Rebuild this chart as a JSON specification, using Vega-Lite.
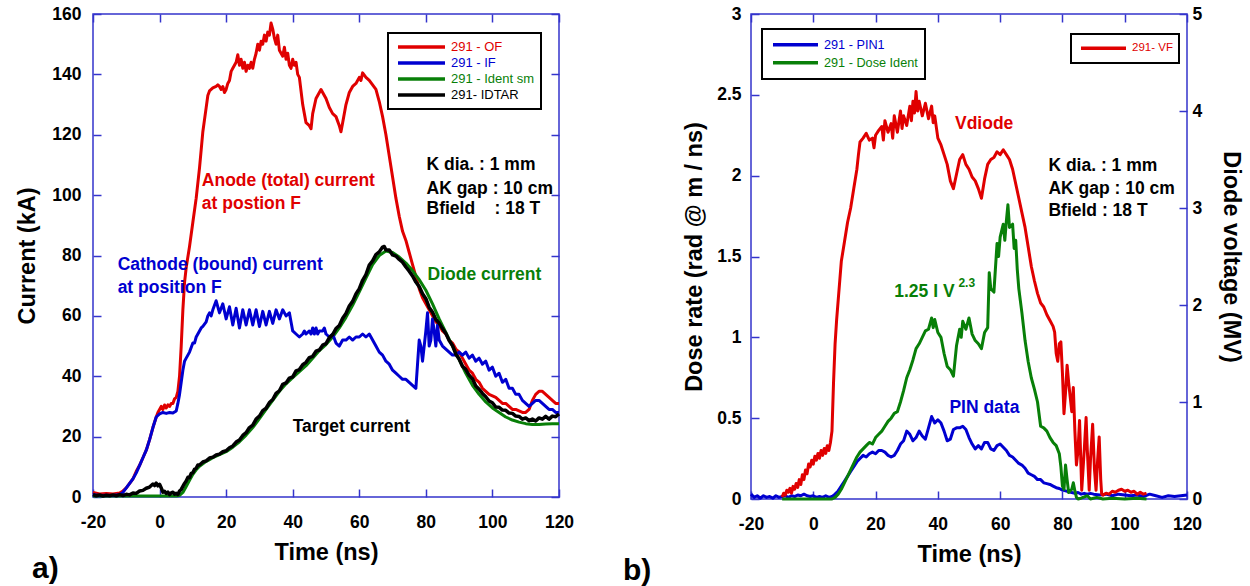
{
"$schema": "https://vega.github.io/schema/vega-lite/v6.json",
"padding": {"left": 15, "top": 4, "right": 0, "bottom": 5},
"background": "white",
"spacing": 192,
"bounds": "flush",
"config": {
  "font": "Liberation Sans",
  "view": {"stroke": "#3434cc", "strokeWidth": 1.5},
  "axis": {"domain": false, "grid": false, "tickColor": "#3434cc", "tickWidth": 1.5, "tickSize": -8,
    "labelFont": "Liberation Sans", "labelFontWeight": "bold", "labelFontSize": 17.5, "labelColor": "#000",
    "titleFont": "Liberation Sans", "titleFontWeight": "bold", "titleFontSize": 23.5, "titleColor": "#000",
    "labelFlush": false, "labelOverlap": false},
  "text": {"font": "Liberation Sans", "fontWeight": "bold", "fontSize": 17.5, "align": "left", "baseline": "alphabetic"}
},
"datasets": {
 "of": [{"t":-20,"v":1.5},{"t":-18,"v":1},{"t":-16,"v":1.2},{"t":-14,"v":1},{"t":-12,"v":1.3},{"t":-11,"v":2},{"t":-10,"v":3},{"t":-9,"v":4.5},{"t":-8,"v":6},{"t":-7,"v":8.5},{"t":-6,"v":10.5},{"t":-5,"v":13},{"t":-4,"v":15.5},{"t":-3,"v":19},{"t":-2,"v":23},{"t":-1,"v":26.5},{"t":-0.5,"v":28},{"t":0,"v":29},{"t":0.5,"v":30},{"t":1,"v":29},{"t":1.5,"v":30.5},{"t":2,"v":29.5},{"t":2.5,"v":30.5},{"t":3,"v":30},{"t":3.5,"v":31},{"t":4,"v":31},{"t":4.5,"v":32.5},{"t":5,"v":33},{"t":5.5,"v":35},{"t":6,"v":40},{"t":6.5,"v":50},{"t":7,"v":62},{"t":7.5,"v":71},{"t":8,"v":76},{"t":9,"v":83},{"t":10,"v":91},{"t":11,"v":99},{"t":12,"v":109},{"t":12.5,"v":115},{"t":13,"v":121},{"t":13.5,"v":125},{"t":14,"v":129},{"t":14.5,"v":133},{"t":15,"v":134.5},{"t":16,"v":135.5},{"t":17,"v":136},{"t":17.5,"v":136.5},{"t":18,"v":136},{"t":18.5,"v":135},{"t":19,"v":136},{"t":19.5,"v":134},{"t":20,"v":135},{"t":20.5,"v":137},{"t":21,"v":138},{"t":21.5,"v":141},{"t":22,"v":142},{"t":22.5,"v":143},{"t":23,"v":144},{"t":23.5,"v":146.5},{"t":24,"v":143},{"t":24.5,"v":145},{"t":25,"v":142},{"t":25.5,"v":144},{"t":26,"v":141},{"t":26.5,"v":143},{"t":27,"v":142},{"t":27.5,"v":144},{"t":28,"v":142},{"t":28.5,"v":145},{"t":29,"v":147},{"t":29.5,"v":150},{"t":30,"v":148},{"t":30.5,"v":151},{"t":31,"v":150},{"t":31.5,"v":153},{"t":32,"v":151},{"t":32.5,"v":154},{"t":33,"v":153},{"t":33.5,"v":157},{"t":34,"v":155},{"t":34.5,"v":152},{"t":35,"v":150},{"t":35.5,"v":153},{"t":36,"v":148},{"t":37,"v":146},{"t":37.5,"v":149},{"t":38,"v":145},{"t":38.5,"v":147},{"t":39,"v":143},{"t":39.5,"v":142},{"t":40,"v":145},{"t":40.5,"v":143},{"t":41,"v":144},{"t":41.5,"v":140},{"t":42,"v":139},{"t":43,"v":130},{"t":43.5,"v":127},{"t":44,"v":124},{"t":45,"v":123},{"t":45.5,"v":122},{"t":46,"v":127},{"t":47,"v":132},{"t":48,"v":134},{"t":48.5,"v":135},{"t":49,"v":134},{"t":50,"v":132},{"t":51,"v":129},{"t":52,"v":127},{"t":53,"v":126},{"t":54,"v":123},{"t":54.5,"v":121},{"t":55,"v":124},{"t":56,"v":130},{"t":57,"v":134},{"t":58,"v":136},{"t":59,"v":137},{"t":60,"v":139},{"t":60.5,"v":138},{"t":61,"v":140.5},{"t":62,"v":139},{"t":63,"v":138},{"t":64,"v":136.5},{"t":65,"v":135},{"t":66,"v":131},{"t":67,"v":126},{"t":68,"v":120},{"t":69,"v":113},{"t":70,"v":106},{"t":71,"v":99},{"t":72,"v":93},{"t":73,"v":88},{"t":74,"v":85},{"t":75,"v":81},{"t":76,"v":77},{"t":77,"v":73},{"t":78,"v":69},{"t":79,"v":66},{"t":80,"v":64},{"t":81,"v":62},{"t":82,"v":60},{"t":83,"v":58},{"t":84,"v":57},{"t":85,"v":55},{"t":86,"v":54},{"t":87,"v":52},{"t":88,"v":51},{"t":89,"v":49},{"t":90,"v":48},{"t":91,"v":46},{"t":92,"v":44},{"t":93,"v":42},{"t":94,"v":41},{"t":95,"v":39},{"t":96,"v":38},{"t":97,"v":36},{"t":98,"v":35},{"t":99,"v":34},{"t":100,"v":33.5},{"t":101,"v":33},{"t":102,"v":32},{"t":103,"v":31},{"t":104,"v":31},{"t":105,"v":30},{"t":106,"v":29},{"t":107,"v":29},{"t":108,"v":28.5},{"t":109,"v":28},{"t":110,"v":28},{"t":111,"v":29},{"t":112,"v":32},{"t":113,"v":34},{"t":114,"v":35},{"t":115,"v":35},{"t":116,"v":34},{"t":117,"v":33},{"t":118,"v":32},{"t":119,"v":31},{"t":120,"v":31}],
 "iff": [{"t":-20,"v":0.8},{"t":-18,"v":0.5},{"t":-16,"v":0.6},{"t":-14,"v":0.5},{"t":-12,"v":0.8},{"t":-11,"v":1.5},{"t":-10,"v":3},{"t":-9,"v":4.5},{"t":-8,"v":6},{"t":-7,"v":8},{"t":-6,"v":10.5},{"t":-5,"v":13},{"t":-4,"v":15.5},{"t":-3,"v":19},{"t":-2,"v":23},{"t":-1,"v":26.5},{"t":0,"v":27.5},{"t":1,"v":28},{"t":2,"v":27.7},{"t":3,"v":28},{"t":4,"v":27.8},{"t":5,"v":28.5},{"t":5.5,"v":31},{"t":6,"v":34},{"t":6.5,"v":38},{"t":7,"v":42},{"t":7.5,"v":45},{"t":8,"v":46},{"t":9,"v":48},{"t":10,"v":51},{"t":10.5,"v":51},{"t":11,"v":53},{"t":12,"v":55},{"t":12.5,"v":56},{"t":13,"v":56.5},{"t":14,"v":58},{"t":14.5,"v":60},{"t":15,"v":61},{"t":15.5,"v":60},{"t":16,"v":62},{"t":17,"v":65},{"t":18,"v":61},{"t":19,"v":64},{"t":20,"v":59},{"t":21,"v":63},{"t":22,"v":57},{"t":23,"v":62.5},{"t":24,"v":56},{"t":25,"v":62},{"t":26,"v":57},{"t":27,"v":62},{"t":28,"v":57},{"t":29,"v":62},{"t":30,"v":56.5},{"t":31,"v":61.5},{"t":32,"v":57},{"t":33,"v":61.5},{"t":34,"v":57.5},{"t":35,"v":62},{"t":36,"v":59},{"t":37,"v":62},{"t":38,"v":60},{"t":39,"v":61},{"t":39.5,"v":58},{"t":40,"v":55},{"t":41,"v":54},{"t":42,"v":53},{"t":43,"v":54},{"t":43.5,"v":55},{"t":44,"v":54},{"t":45,"v":55},{"t":45.5,"v":54},{"t":46,"v":56},{"t":46.5,"v":54},{"t":47,"v":56},{"t":47.5,"v":54},{"t":48,"v":55},{"t":49,"v":55},{"t":49.5,"v":56},{"t":50,"v":54},{"t":51,"v":53},{"t":52,"v":54},{"t":53,"v":51},{"t":54,"v":50},{"t":55,"v":52},{"t":56,"v":52},{"t":57,"v":53},{"t":58,"v":52},{"t":59,"v":53},{"t":60,"v":53},{"t":61,"v":54},{"t":62,"v":53},{"t":63,"v":54},{"t":64,"v":52},{"t":65,"v":50},{"t":66,"v":48},{"t":67,"v":47},{"t":68,"v":45},{"t":69,"v":44},{"t":70,"v":42},{"t":71,"v":41},{"t":72,"v":40},{"t":73,"v":39},{"t":74,"v":39},{"t":75,"v":38},{"t":76,"v":37},{"t":77,"v":36},{"t":77.5,"v":44},{"t":78,"v":52},{"t":78.5,"v":50},{"t":79,"v":45},{"t":80,"v":55},{"t":80.5,"v":61},{"t":81,"v":50},{"t":81.5,"v":52},{"t":82,"v":59},{"t":82.5,"v":55},{"t":83,"v":50},{"t":83.5,"v":57},{"t":84,"v":52},{"t":85,"v":50},{"t":86,"v":49},{"t":87,"v":48},{"t":88,"v":47},{"t":89,"v":47},{"t":90,"v":48},{"t":91,"v":47},{"t":92,"v":48},{"t":93,"v":46},{"t":94,"v":47},{"t":95,"v":45},{"t":96,"v":46},{"t":97,"v":44},{"t":98,"v":45},{"t":99,"v":42},{"t":100,"v":43},{"t":101,"v":40},{"t":102,"v":41},{"t":103,"v":38},{"t":104,"v":39},{"t":105,"v":36},{"t":106,"v":36},{"t":107,"v":34},{"t":108,"v":34},{"t":109,"v":32},{"t":110,"v":31},{"t":111,"v":30},{"t":112,"v":31},{"t":113,"v":32},{"t":114,"v":32},{"t":115,"v":31},{"t":116,"v":30},{"t":117,"v":29},{"t":118,"v":29},{"t":119,"v":28},{"t":120,"v":28}],
 "idsm": [{"t":-20,"v":0.3},{"t":-10,"v":0.3},{"t":0,"v":0.3},{"t":5,"v":0.3},{"t":6,"v":0.5},{"t":7,"v":1.5},{"t":8,"v":3.5},{"t":9,"v":5.5},{"t":10,"v":7.5},{"t":11,"v":9},{"t":12,"v":10.2},{"t":13,"v":11},{"t":14,"v":11.8},{"t":15,"v":12.4},{"t":16,"v":13},{"t":17,"v":13.5},{"t":18,"v":14},{"t":19,"v":14.5},{"t":20,"v":15},{"t":22,"v":16.5},{"t":24,"v":18.3},{"t":26,"v":20.5},{"t":28,"v":23},{"t":30,"v":26},{"t":32,"v":29},{"t":34,"v":32},{"t":36,"v":35},{"t":38,"v":37.5},{"t":40,"v":39.5},{"t":42,"v":41.5},{"t":44,"v":43.5},{"t":46,"v":46},{"t":48,"v":48.5},{"t":50,"v":50.5},{"t":52,"v":53},{"t":54,"v":56},{"t":56,"v":59.5},{"t":58,"v":63.5},{"t":60,"v":68},{"t":62,"v":72.5},{"t":64,"v":77},{"t":66,"v":80},{"t":68,"v":81.5},{"t":70,"v":81},{"t":72,"v":79.5},{"t":74,"v":77.5},{"t":76,"v":75},{"t":78,"v":72},{"t":80,"v":68.5},{"t":82,"v":64},{"t":84,"v":59},{"t":86,"v":54.5},{"t":88,"v":50},{"t":90,"v":45.5},{"t":92,"v":41},{"t":94,"v":37},{"t":96,"v":34},{"t":98,"v":31.5},{"t":100,"v":29.5},{"t":102,"v":28},{"t":104,"v":26.5},{"t":106,"v":25.5},{"t":108,"v":24.8},{"t":110,"v":24.3},{"t":112,"v":24},{"t":114,"v":24},{"t":116,"v":24.2},{"t":118,"v":24.3},{"t":120,"v":24.3}],
 "idtar": [{"t":-20,"v":0.8},{"t":-19,"v":0.4},{"t":-18,"v":0.7},{"t":-17,"v":0.3},{"t":-16,"v":0.6},{"t":-15,"v":0.4},{"t":-14,"v":0.7},{"t":-13,"v":0.4},{"t":-12,"v":0.8},{"t":-11,"v":0.5},{"t":-10,"v":0.9},{"t":-9,"v":0.7},{"t":-8,"v":1.3},{"t":-7,"v":1.2},{"t":-6,"v":2},{"t":-5,"v":2.2},{"t":-4,"v":2.9},{"t":-3,"v":3.3},{"t":-2,"v":4.3},{"t":-1.5,"v":3.8},{"t":-1,"v":4.6},{"t":-0.5,"v":3.7},{"t":0,"v":4.2},{"t":0.5,"v":3},{"t":1,"v":1.6},{"t":1.5,"v":1.9},{"t":2,"v":1.2},{"t":2.5,"v":1.6},{"t":3,"v":0.8},{"t":3.5,"v":1.4},{"t":4,"v":1.6},{"t":4.5,"v":0.9},{"t":5,"v":1.2},{"t":5.5,"v":0.8},{"t":6,"v":2},{"t":6.5,"v":2.5},{"t":7,"v":3.5},{"t":7.5,"v":4.5},{"t":8,"v":5.3},{"t":8.5,"v":6.5},{"t":9,"v":6.4},{"t":9.5,"v":7.8},{"t":10,"v":8},{"t":10.5,"v":9.2},{"t":11,"v":9.5},{"t":11.5,"v":10.6},{"t":12,"v":10.6},{"t":13,"v":11.6},{"t":14,"v":12},{"t":15,"v":12.9},{"t":16,"v":13.2},{"t":17,"v":13.9},{"t":18,"v":14.2},{"t":19,"v":15},{"t":20,"v":15.3},{"t":21,"v":16.3},{"t":22,"v":16.9},{"t":23,"v":18.2},{"t":24,"v":18.9},{"t":25,"v":20.4},{"t":26,"v":21.3},{"t":27,"v":23},{"t":28,"v":23.8},{"t":29,"v":25.8},{"t":30,"v":26.8},{"t":31,"v":28.6},{"t":32,"v":29.4},{"t":33,"v":31.3},{"t":34,"v":32.3},{"t":35,"v":34.3},{"t":36,"v":35.2},{"t":37,"v":37.3},{"t":38,"v":37.8},{"t":39,"v":39.4},{"t":40,"v":39.8},{"t":41,"v":41.8},{"t":42,"v":42.2},{"t":43,"v":43.8},{"t":44,"v":44.6},{"t":45,"v":46.2},{"t":46,"v":46.6},{"t":47,"v":48.3},{"t":48,"v":48.7},{"t":49,"v":50.3},{"t":50,"v":50.8},{"t":51,"v":52.8},{"t":52,"v":53.8},{"t":53,"v":55.8},{"t":54,"v":56.8},{"t":55,"v":59.2},{"t":56,"v":60.8},{"t":57,"v":63.3},{"t":58,"v":64.8},{"t":59,"v":67.3},{"t":60,"v":69},{"t":61,"v":71.8},{"t":62,"v":73.7},{"t":63,"v":76.8},{"t":64,"v":78.2},{"t":65,"v":80.3},{"t":66,"v":81.2},{"t":67,"v":82.8},{"t":67.5,"v":83},{"t":68,"v":81.8},{"t":69,"v":81.8},{"t":70,"v":80.2},{"t":71,"v":79.8},{"t":72,"v":78.7},{"t":73,"v":77.8},{"t":74,"v":76.2},{"t":75,"v":74.8},{"t":76,"v":73.2},{"t":77,"v":71.2},{"t":78,"v":69.7},{"t":79,"v":67.3},{"t":80,"v":65.7},{"t":81,"v":62.8},{"t":82,"v":61.2},{"t":83,"v":58.8},{"t":84,"v":57.6},{"t":85,"v":55.8},{"t":86,"v":54.2},{"t":87,"v":51.8},{"t":88,"v":50.2},{"t":89,"v":47.3},{"t":90,"v":45.7},{"t":91,"v":43.3},{"t":92,"v":42.2},{"t":93,"v":40.3},{"t":94,"v":39.2},{"t":95,"v":36.8},{"t":96,"v":35.7},{"t":97,"v":34.3},{"t":98,"v":33.2},{"t":99,"v":31.8},{"t":100,"v":31.2},{"t":101,"v":29.8},{"t":102,"v":29.7},{"t":103,"v":28.8},{"t":104,"v":28.7},{"t":105,"v":27.8},{"t":106,"v":27.7},{"t":107,"v":26.8},{"t":108,"v":26.7},{"t":109,"v":25.8},{"t":110,"v":26.2},{"t":111,"v":25.3},{"t":112,"v":25.8},{"t":113,"v":25.2},{"t":114,"v":26.2},{"t":115,"v":25.8},{"t":116,"v":26.7},{"t":117,"v":25.8},{"t":118,"v":26.8},{"t":119,"v":26.6},{"t":120,"v":27.5}],
 "pin": [{"t":-20,"v":0.03},{"t":-19,"v":0.01},{"t":-18,"v":0.02},{"t":-17,"v":0.005},{"t":-16,"v":0.02},{"t":-15,"v":0.01},{"t":-14,"v":0.015},{"t":-13,"v":0.005},{"t":-12,"v":0.02},{"t":-11,"v":0.01},{"t":-10,"v":0.015},{"t":-9,"v":0.02},{"t":-8,"v":0.01},{"t":-7,"v":0.02},{"t":-6,"v":0.015},{"t":-5,"v":0.025},{"t":-4,"v":0.02},{"t":-3,"v":0.03},{"t":-2,"v":0.02},{"t":-1,"v":0.015},{"t":0,"v":0.02},{"t":1,"v":0.01},{"t":2,"v":0.015},{"t":3,"v":0.01},{"t":4,"v":0.02},{"t":5,"v":0.01},{"t":6,"v":0.015},{"t":7,"v":0.03},{"t":8,"v":0.05},{"t":9,"v":0.08},{"t":10,"v":0.11},{"t":11,"v":0.14},{"t":12,"v":0.17},{"t":13,"v":0.2},{"t":14,"v":0.23},{"t":15,"v":0.25},{"t":16,"v":0.27},{"t":17,"v":0.26},{"t":18,"v":0.28},{"t":19,"v":0.29},{"t":20,"v":0.28},{"t":21,"v":0.3},{"t":22,"v":0.3},{"t":23,"v":0.29},{"t":24,"v":0.27},{"t":25,"v":0.26},{"t":26,"v":0.27},{"t":27,"v":0.3},{"t":28,"v":0.34},{"t":29,"v":0.36},{"t":30,"v":0.42},{"t":31,"v":0.4},{"t":32,"v":0.36},{"t":33,"v":0.38},{"t":34,"v":0.42},{"t":35,"v":0.39},{"t":36,"v":0.37},{"t":37,"v":0.44},{"t":38,"v":0.51},{"t":39,"v":0.47},{"t":40,"v":0.49},{"t":41,"v":0.47},{"t":42,"v":0.42},{"t":43,"v":0.36},{"t":44,"v":0.37},{"t":45,"v":0.43},{"t":46,"v":0.44},{"t":47,"v":0.44},{"t":48,"v":0.45},{"t":49,"v":0.43},{"t":50,"v":0.38},{"t":51,"v":0.34},{"t":52,"v":0.31},{"t":53,"v":0.33},{"t":54,"v":0.31},{"t":55,"v":0.35},{"t":56,"v":0.35},{"t":57,"v":0.31},{"t":58,"v":0.3},{"t":59,"v":0.33},{"t":60,"v":0.34},{"t":61,"v":0.32},{"t":62,"v":0.3},{"t":63,"v":0.27},{"t":64,"v":0.26},{"t":65,"v":0.24},{"t":66,"v":0.22},{"t":67,"v":0.21},{"t":68,"v":0.19},{"t":69,"v":0.16},{"t":70,"v":0.15},{"t":71,"v":0.14},{"t":72,"v":0.12},{"t":73,"v":0.12},{"t":74,"v":0.1},{"t":75,"v":0.095},{"t":76,"v":0.09},{"t":77,"v":0.08},{"t":78,"v":0.07},{"t":79,"v":0.065},{"t":80,"v":0.055},{"t":81,"v":0.05},{"t":82,"v":0.045},{"t":83,"v":0.04},{"t":84,"v":0.035},{"t":85,"v":0.04},{"t":86,"v":0.03},{"t":87,"v":0.035},{"t":88,"v":0.03},{"t":89,"v":0.035},{"t":90,"v":0.03},{"t":92,"v":0.025},{"t":94,"v":0.03},{"t":96,"v":0.02},{"t":98,"v":0.03},{"t":100,"v":0.025},{"t":102,"v":0.02},{"t":104,"v":0.025},{"t":106,"v":0.015},{"t":108,"v":0.03},{"t":110,"v":0.02},{"t":112,"v":0.01},{"t":114,"v":0.02},{"t":116,"v":0.015},{"t":118,"v":0.02},{"t":120,"v":0.025}],
 "dose": [{"t":-10,"v":0},{"t":6,"v":0},{"t":7,"v":0.01},{"t":8,"v":0.03},{"t":9,"v":0.06},{"t":10,"v":0.1},{"t":11,"v":0.14},{"t":12,"v":0.18},{"t":13,"v":0.22},{"t":14,"v":0.26},{"t":15,"v":0.29},{"t":16,"v":0.31},{"t":17,"v":0.33},{"t":18,"v":0.35},{"t":19,"v":0.34},{"t":20,"v":0.38},{"t":21,"v":0.4},{"t":22,"v":0.42},{"t":23,"v":0.45},{"t":24,"v":0.48},{"t":25,"v":0.5},{"t":26,"v":0.53},{"t":27,"v":0.54},{"t":28,"v":0.6},{"t":29,"v":0.67},{"t":30,"v":0.75},{"t":31,"v":0.8},{"t":32,"v":0.86},{"t":33,"v":0.93},{"t":34,"v":0.96},{"t":35,"v":1.0},{"t":36,"v":1.04},{"t":37,"v":1.05},{"t":38,"v":1.12},{"t":38.5,"v":1.06},{"t":39,"v":1.11},{"t":40,"v":1.03},{"t":41,"v":1.0},{"t":42,"v":0.9},{"t":43,"v":0.82},{"t":44,"v":0.8},{"t":45,"v":0.76},{"t":46,"v":0.95},{"t":47,"v":1.05},{"t":47.5,"v":1.0},{"t":48,"v":1.1},{"t":49,"v":1.05},{"t":50,"v":1.12},{"t":51,"v":1.02},{"t":52,"v":0.98},{"t":53,"v":0.96},{"t":54,"v":0.93},{"t":55,"v":1.03},{"t":56,"v":1.06},{"t":56.5,"v":1.4},{"t":57,"v":1.3},{"t":58,"v":1.28},{"t":59,"v":1.58},{"t":59.5,"v":1.5},{"t":60,"v":1.62},{"t":61,"v":1.7},{"t":61.5,"v":1.6},{"t":62,"v":1.72},{"t":62.5,"v":1.82},{"t":63,"v":1.68},{"t":64,"v":1.7},{"t":64.5,"v":1.55},{"t":65,"v":1.6},{"t":65.5,"v":1.42},{"t":66,"v":1.3},{"t":67,"v":1.15},{"t":68,"v":0.98},{"t":69,"v":0.85},{"t":70,"v":0.75},{"t":71,"v":0.68},{"t":72,"v":0.6},{"t":73,"v":0.45},{"t":74,"v":0.44},{"t":75,"v":0.42},{"t":76,"v":0.38},{"t":77,"v":0.35},{"t":78,"v":0.33},{"t":79,"v":0.28},{"t":79.5,"v":0.2},{"t":80,"v":0.08},{"t":80.5,"v":0.06},{"t":81,"v":0.21},{"t":81.5,"v":0.12},{"t":82,"v":0.04},{"t":83,"v":0.06},{"t":83.5,"v":0.1},{"t":84,"v":0.05},{"t":84.5,"v":0.01},{"t":85,"v":0},{"t":86,"v":0.005},{"t":88,"v":0.02},{"t":89,"v":0},{"t":91,"v":0.01},{"t":93,"v":0},{"t":96,"v":0.005},{"t":100,"v":0},{"t":104,"v":0.005},{"t":107,"v":0}],
 "vf": [{"t":-10,"v":0.02},{"t":-9.5,"v":0.06},{"t":-9,"v":0.04},{"t":-8.5,"v":0.09},{"t":-8,"v":0.07},{"t":-7.5,"v":0.11},{"t":-7,"v":0.06},{"t":-6.5,"v":0.13},{"t":-6,"v":0.1},{"t":-5.5,"v":0.16},{"t":-5,"v":0.12},{"t":-4.5,"v":0.2},{"t":-4,"v":0.15},{"t":-3.5,"v":0.25},{"t":-3,"v":0.2},{"t":-2.5,"v":0.3},{"t":-2,"v":0.26},{"t":-1.5,"v":0.36},{"t":-1,"v":0.33},{"t":-0.5,"v":0.4},{"t":0,"v":0.36},{"t":0.5,"v":0.44},{"t":1,"v":0.4},{"t":1.5,"v":0.47},{"t":2,"v":0.42},{"t":2.5,"v":0.5},{"t":3,"v":0.45},{"t":3.5,"v":0.52},{"t":4,"v":0.47},{"t":4.5,"v":0.55},{"t":5,"v":0.5},{"t":5.5,"v":0.58},{"t":6,"v":0.7},{"t":6.5,"v":1.2},{"t":7,"v":1.6},{"t":7.5,"v":1.85},{"t":8,"v":2.05},{"t":8.5,"v":2.25},{"t":9,"v":2.45},{"t":10,"v":2.65},{"t":11,"v":2.85},{"t":12,"v":3.0},{"t":13,"v":3.2},{"t":14,"v":3.4},{"t":14.5,"v":3.55},{"t":15,"v":3.68},{"t":16,"v":3.72},{"t":17,"v":3.77},{"t":18,"v":3.7},{"t":19,"v":3.72},{"t":19.5,"v":3.62},{"t":20,"v":3.75},{"t":21,"v":3.8},{"t":22,"v":3.84},{"t":22.5,"v":3.7},{"t":23,"v":3.9},{"t":24,"v":3.78},{"t":25,"v":3.87},{"t":25.5,"v":3.72},{"t":26,"v":3.95},{"t":27,"v":3.78},{"t":28,"v":4.0},{"t":28.5,"v":3.82},{"t":29,"v":3.95},{"t":30,"v":3.85},{"t":31,"v":4.05},{"t":31.5,"v":3.9},{"t":32,"v":4.1},{"t":32.5,"v":3.98},{"t":33,"v":4.2},{"t":33.5,"v":4.0},{"t":34,"v":4.1},{"t":35,"v":3.95},{"t":36,"v":4.08},{"t":37,"v":3.92},{"t":38,"v":4.05},{"t":38.5,"v":3.88},{"t":39,"v":3.95},{"t":40,"v":3.72},{"t":41,"v":3.65},{"t":42,"v":3.55},{"t":43,"v":3.45},{"t":44,"v":3.28},{"t":45,"v":3.2},{"t":46,"v":3.35},{"t":47,"v":3.5},{"t":48,"v":3.55},{"t":49,"v":3.45},{"t":50,"v":3.4},{"t":51,"v":3.32},{"t":52,"v":3.28},{"t":53,"v":3.2},{"t":54,"v":3.1},{"t":55,"v":3.3},{"t":56,"v":3.45},{"t":57,"v":3.5},{"t":58,"v":3.52},{"t":59,"v":3.58},{"t":60,"v":3.55},{"t":61,"v":3.6},{"t":62,"v":3.55},{"t":63,"v":3.5},{"t":64,"v":3.4},{"t":65,"v":3.25},{"t":66,"v":3.1},{"t":67,"v":2.95},{"t":68,"v":2.8},{"t":69,"v":2.6},{"t":70,"v":2.4},{"t":71,"v":2.25},{"t":72,"v":2.12},{"t":73,"v":2.02},{"t":74,"v":1.98},{"t":75,"v":1.9},{"t":76,"v":1.84},{"t":77,"v":1.78},{"t":77.5,"v":1.72},{"t":78,"v":1.5},{"t":78.5,"v":1.42},{"t":79,"v":1.6},{"t":79.5,"v":1.62},{"t":80,"v":1.3},{"t":80.5,"v":0.88},{"t":81,"v":1.1},{"t":81.5,"v":1.38},{"t":82,"v":1.2},{"t":83,"v":0.9},{"t":83.5,"v":1.15},{"t":84,"v":0.7},{"t":84.5,"v":0.35},{"t":85,"v":0.5},{"t":85.5,"v":0.81},{"t":86,"v":0.3},{"t":86.2,"v":0.09},{"t":87,"v":0.5},{"t":87.6,"v":0.84},{"t":88,"v":0.5},{"t":88.6,"v":0.09},{"t":89,"v":0.4},{"t":89.7,"v":0.77},{"t":90.3,"v":0.3},{"t":90.8,"v":0.09},{"t":91.3,"v":0.4},{"t":91.8,"v":0.64},{"t":92.3,"v":0.2},{"t":92.6,"v":0.05},{"t":93,"v":0.04},{"t":94,"v":0.06},{"t":95,"v":0.05},{"t":96,"v":0.08},{"t":97,"v":0.07},{"t":98,"v":0.09},{"t":99,"v":0.1},{"t":100,"v":0.08},{"t":101,"v":0.09},{"t":102,"v":0.07},{"t":103,"v":0.08},{"t":104,"v":0.05},{"t":105,"v":0.07},{"t":106,"v":0.05},{"t":107,"v":0.06}]
},
"resolve": {"scale": {"color": "independent", "stroke": "independent"}, "legend": {"color": "independent", "stroke": "independent"}},
"hconcat": [
 {
  "width": 466, "height": 483,
  "title": {"text": "a)", "orient": "bottom", "anchor": "start", "frame": "group", "dx": -61, "offset": -10, "fontSize": 30, "fontWeight": "bold", "font": "Liberation Sans", "color": "#000"},
  "resolve": {"axis": {"x": "independent", "y": "independent"}},
  "layer": [
   {"data": {"name": "of"}, "mark": {"type": "line", "strokeWidth": 3, "strokeJoin": "round"},
    "encoding": {
     "x": {"field": "t", "type": "quantitative", "scale": {"domain": [-20, 120], "nice": false, "zero": false},
       "axis": {"orient": "bottom", "values": [-20,0,20,40,60,80,100,120], "title": "Time (ns)", "labelExpr": "'' + datum.value", "labelPadding": 24, "titlePadding": 10}},
     "y": {"field": "v", "type": "quantitative", "scale": {"domain": [0, 160], "nice": false},
       "axis": {"orient": "left", "values": [0,20,40,60,80,100,120,140,160], "title": "Current (kA)", "labelExpr": "'' + datum.value", "labelPadding": 20, "titlePadding": 12}},
     "color": {"datum": "291 - OF", "type": "nominal",
       "scale": {"domain": ["291 - OF", "291 - IF", "291 - Ident sm", "291- IDTAR"], "range": ["#e00000", "#0000d0", "#087f08", "#000000"]},
       "legend": {"title": null, "orient": "none", "legendX": 295, "legendY": 19, "symbolType": "stroke", "symbolSize": 2209, "symbolStrokeWidth": 3.5, "symbolOffset": 2,
         "labelFontSize": 13, "labelFont": "Liberation Sans", "labelFontWeight": "normal", "labelOffset": 4, "clipHeight": 16, "rowPadding": 0, "padding": 6,
         "strokeColor": "#000", "fillColor": "#fff",
         "encode": {"labels": {"update": {"fill": {"signal": "datum.value === '291 - OF' ? '#e00000' : datum.value === '291 - IF' ? '#0000d0' : datum.value === '291 - Ident sm' ? '#087f08' : '#000000'"}}},
                    "legend": {"update": {"strokeWidth": {"value": 2}}}}}}
    }},
   {"data": {"name": "idsm"}, "mark": {"type": "line", "strokeWidth": 3, "strokeJoin": "round"},
    "encoding": {
     "x": {"field": "t", "type": "quantitative", "scale": {"domain": [-20, 120], "nice": false, "zero": false}, "axis": null},
     "y": {"field": "v", "type": "quantitative", "scale": {"domain": [0, 160], "nice": false}, "axis": null},
     "color": {"datum": "291 - Ident sm", "type": "nominal", "legend": null}}},
   {"data": {"name": "iff"}, "mark": {"type": "line", "strokeWidth": 3, "strokeJoin": "round"},
    "encoding": {
     "x": {"field": "t", "type": "quantitative", "scale": {"domain": [-20, 120], "nice": false, "zero": false}, "axis": null},
     "y": {"field": "v", "type": "quantitative", "scale": {"domain": [0, 160], "nice": false}, "axis": null},
     "color": {"datum": "291 - IF", "type": "nominal", "legend": null}}},
   {"data": {"name": "idtar"}, "mark": {"type": "line", "strokeWidth": 3.5, "strokeJoin": "round"},
    "encoding": {
     "x": {"field": "t", "type": "quantitative", "scale": {"domain": [-20, 120], "nice": false, "zero": false}, "axis": null},
     "y": {"field": "v", "type": "quantitative", "scale": {"domain": [0, 160], "nice": false}, "axis": null},
     "color": {"datum": "291- IDTAR", "type": "nominal", "legend": null}}},
   {"data": {"values": [{"t": 12.7, "v": 103, "txt": "Anode (total) current"}, {"t": 12.7, "v": 95.4, "txt": "at postion F"}]},
    "mark": {"type": "text", "color": "#e00000"},
    "encoding": {
     "x": {"field": "t", "type": "quantitative", "scale": {"domain": [-20, 120], "nice": false, "zero": false}, "axis": null},
     "y": {"field": "v", "type": "quantitative", "scale": {"domain": [0, 160], "nice": false}, "axis": null},
     "text": {"field": "txt"}}},
   {"data": {"values": [{"t": -12.6, "v": 75.1, "txt": "Cathode (bound) current"}, {"t": -12.6, "v": 67.7, "txt": "at position F"}]},
    "mark": {"type": "text", "color": "#0000d0"},
    "encoding": {
     "x": {"field": "t", "type": "quantitative", "scale": {"domain": [-20, 120], "nice": false, "zero": false}, "axis": null},
     "y": {"field": "v", "type": "quantitative", "scale": {"domain": [0, 160], "nice": false}, "axis": null},
     "text": {"field": "txt"}}},
   {"data": {"values": [{"t": 80.5, "v": 71.8, "txt": "Diode current"}]},
    "mark": {"type": "text", "color": "#087f08"},
    "encoding": {
     "x": {"field": "t", "type": "quantitative", "scale": {"domain": [-20, 120], "nice": false, "zero": false}, "axis": null},
     "y": {"field": "v", "type": "quantitative", "scale": {"domain": [0, 160], "nice": false}, "axis": null},
     "text": {"field": "txt"}}},
   {"data": {"values": [{"t": 80.2, "v": 108.3, "txt": "K dia. : 1 mm"}, {"t": 80.2, "v": 100.5, "txt": "AK gap : 10 cm"}, {"t": 80.2, "v": 93.6, "txt": "Bfield\u00a0\u00a0\u00a0\u00a0: 18 T"}, {"t": 40, "v": 21.6, "txt": "Target current"}]},
    "mark": {"type": "text", "color": "#000000"},
    "encoding": {
     "x": {"field": "t", "type": "quantitative", "scale": {"domain": [-20, 120], "nice": false, "zero": false},
       "axis": {"orient": "top", "values": [-20,0,20,40,60,80,100,120], "labels": false, "title": null}},
     "y": {"field": "v", "type": "quantitative", "scale": {"domain": [0, 160], "nice": false},
       "axis": {"orient": "right", "values": [0,20,40,60,80,100,120,140,160], "labels": false, "title": null}},
     "text": {"field": "txt"}}}
  ]
 },
 {
  "width": 436, "height": 485,
  "title": {"text": "b)", "orient": "bottom", "anchor": "start", "frame": "group", "dx": -128, "offset": -10, "fontSize": 30, "fontWeight": "bold", "font": "Liberation Sans", "color": "#000"},
  "resolve": {"scale": {"y": "independent"}, "axis": {"x": "independent"}},
  "layer": [
   {"data": {"name": "pin"}, "mark": {"type": "line", "strokeWidth": 3, "strokeJoin": "round"},
    "encoding": {
     "x": {"field": "t", "type": "quantitative", "scale": {"domain": [-20, 120], "nice": false, "zero": false},
       "axis": {"orient": "bottom", "values": [-20,0,20,40,60,80,100,120], "title": "Time (ns)", "labelExpr": "'' + datum.value", "labelPadding": 24, "titlePadding": 10}},
     "y": {"field": "v", "type": "quantitative", "scale": {"domain": [0, 3], "nice": false},
       "axis": {"orient": "left", "values": [0,0.5,1,1.5,2,2.5,3], "title": "Dose rate (rad @ m / ns)", "labelExpr": "'' + datum.value", "labelPadding": 18, "titlePadding": 10}},
     "color": {"datum": "291 - PIN1", "type": "nominal",
       "scale": {"domain": ["291 - PIN1", "291 - Dose Ident"], "range": ["#0000d0", "#087f08"]},
       "legend": {"title": null, "orient": "none", "legendX": 11, "legendY": 15, "symbolType": "stroke", "symbolSize": 2025, "symbolStrokeWidth": 3.5, "symbolOffset": 2,
         "labelFontSize": 12.7, "labelFont": "Liberation Sans", "labelFontWeight": "normal", "labelOffset": 4, "clipHeight": 17.5, "rowPadding": 0, "padding": 7,
         "strokeColor": "#000", "fillColor": "#fff",
         "encode": {"labels": {"update": {"fill": {"signal": "datum.value === '291 - PIN1' ? '#0000d0' : '#087f08'"}}},
                    "legend": {"update": {"strokeWidth": {"value": 2}}}}}}
    }},
   {"data": {"name": "dose"}, "mark": {"type": "line", "strokeWidth": 3, "strokeJoin": "round"},
    "encoding": {
     "x": {"field": "t", "type": "quantitative", "scale": {"domain": [-20, 120], "nice": false, "zero": false}, "axis": null},
     "y": {"field": "v", "type": "quantitative", "scale": {"domain": [0, 3], "nice": false}, "axis": null},
     "color": {"datum": "291 - Dose Ident", "type": "nominal", "legend": null}}},
   {"data": {"name": "vf"}, "mark": {"type": "line", "strokeWidth": 3, "strokeJoin": "round"},
    "encoding": {
     "x": {"field": "t", "type": "quantitative", "scale": {"domain": [-20, 120], "nice": false, "zero": false}, "axis": null},
     "y": {"field": "v", "type": "quantitative", "scale": {"domain": [0, 5], "nice": false},
       "axis": {"orient": "right", "values": [0,1,2,3,4,5], "title": "Diode voltage (MV)", "labelExpr": "'' + datum.value", "labelPadding": 13, "titlePadding": 17}},
     "stroke": {"datum": "291- VF", "type": "nominal",
       "scale": {"domain": ["291- VF"], "range": ["#e00000"]},
       "legend": {"title": null, "orient": "none", "legendX": 320, "legendY": 20, "symbolType": "stroke", "symbolSize": 2025, "symbolStrokeWidth": 3.5, "symbolOffset": 2,
         "labelFontSize": 11.5, "labelFont": "Liberation Sans", "labelFontWeight": "normal", "labelColor": "#e00000", "labelOffset": 4, "clipHeight": 16.5, "rowPadding": 0, "padding": 6,
         "strokeColor": "#000", "fillColor": "#fff",
         "encode": {"legend": {"update": {"strokeWidth": {"value": 2}}}}}}
    }},
   {"data": {"values": [{"t": 45.5, "v": 2.288, "txt": "Vdiode"}]},
    "mark": {"type": "text", "color": "#e00000"},
    "encoding": {
     "x": {"field": "t", "type": "quantitative", "scale": {"domain": [-20, 120], "nice": false, "zero": false}, "axis": null},
     "y": {"field": "v", "type": "quantitative", "scale": {"domain": [0, 3], "nice": false}, "axis": null},
     "text": {"field": "txt"}}},
   {"data": {"values": [{"t": 26.0, "v": 1.247, "txt": "1.25 I V"}]},
    "mark": {"type": "text", "color": "#087f08"},
    "encoding": {
     "x": {"field": "t", "type": "quantitative", "scale": {"domain": [-20, 120], "nice": false, "zero": false}, "axis": null},
     "y": {"field": "v", "type": "quantitative", "scale": {"domain": [0, 3], "nice": false}, "axis": null},
     "text": {"field": "txt"}}},
   {"data": {"values": [{"t": 46.6, "v": 1.313, "txt": "2.3"}]},
    "mark": {"type": "text", "color": "#087f08", "fontSize": 12},
    "encoding": {
     "x": {"field": "t", "type": "quantitative", "scale": {"domain": [-20, 120], "nice": false, "zero": false}, "axis": null},
     "y": {"field": "v", "type": "quantitative", "scale": {"domain": [0, 3], "nice": false}, "axis": null},
     "text": {"field": "txt"}}},
   {"data": {"values": [{"t": 43.7, "v": 0.53, "txt": "PIN data"}]},
    "mark": {"type": "text", "color": "#0000d0"},
    "encoding": {
     "x": {"field": "t", "type": "quantitative", "scale": {"domain": [-20, 120], "nice": false, "zero": false}, "axis": null},
     "y": {"field": "v", "type": "quantitative", "scale": {"domain": [0, 3], "nice": false}, "axis": null},
     "text": {"field": "txt"}}},
   {"data": {"values": [{"t": 75.5, "v": 2.03, "txt": "K dia. : 1 mm"}, {"t": 75.5, "v": 1.886, "txt": "AK gap : 10 cm"}, {"t": 75.5, "v": 1.752, "txt": "Bfield : 18 T"}]},
    "mark": {"type": "text", "color": "#000000"},
    "encoding": {
     "x": {"field": "t", "type": "quantitative", "scale": {"domain": [-20, 120], "nice": false, "zero": false},
       "axis": {"orient": "top", "values": [-20,0,20,40,60,80,100,120], "labels": false, "title": null}},
     "y": {"field": "v", "type": "quantitative", "scale": {"domain": [0, 3], "nice": false}, "axis": null},
     "text": {"field": "txt"}}}
  ]
 }
]
}
